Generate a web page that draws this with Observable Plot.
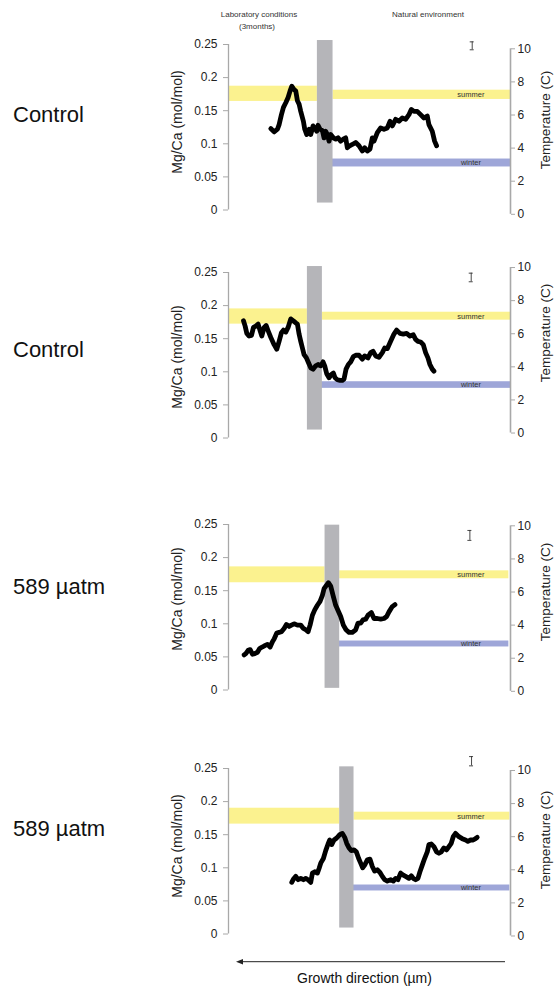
<!DOCTYPE html>
<html>
<head>
<meta charset="utf-8">
<script src="https://cdn.jsdelivr.net/npm/d3@7"></script>
<script src="https://cdn.jsdelivr.net/npm/@observablehq/plot@0.6"></script>
<style>
  html, body { margin: 0; padding: 0; background: #fff; }
  body { width: 555px; height: 986px; position: relative; overflow: hidden; font-family: "Liberation Sans", Arial, sans-serif; }
  .panel { position: absolute; left: 0; }
  #overlay { position: absolute; left: 0; top: 0; pointer-events: none; }
</style>
</head>
<body>
<div id="root"></div>
<script>
// ---------- data ----------
const panelLabels = ["Control", "Control", "589 µatm", "589 µatm"];
const headerLab = ["Laboratory conditions", "(3months)"];
const headerNat = "Natural environment";
const yLabel = "Mg/Ca (mol/mol)";
const tLabel = "Temperature (C)";
const xLabel = "Growth direction (µm)";

const mgTicks = [0, 0.05, 0.1, 0.15, 0.2, 0.25];
const tempTicks = [0, 2, 4, 6, 8, 10];
const xMax = 847; // distance units across the plot

// Panel 1 (Control)
const p1X = [127,137,147,152,159,165,172,179,185,190,197,202,207,212,217,225,229,235,242,247,254,259,265,269,275,282,287,292,297,302,307,315,322,329,337,345,352,357,364,372,382,392,402,409,417,425,432,437,447,457,467,477,485,492,502,512,522,532,542,549,557,567,577,587,597,602,612,619,625];
const p1Y = [0.123,0.118,0.122,0.129,0.144,0.155,0.162,0.170,0.180,0.187,0.182,0.180,0.165,0.160,0.149,0.134,0.122,0.114,0.122,0.114,0.127,0.124,0.119,0.128,0.122,0.120,0.109,0.119,0.114,0.104,0.114,0.109,0.107,0.109,0.104,0.107,0.109,0.094,0.097,0.099,0.102,0.097,0.089,0.094,0.089,0.092,0.109,0.104,0.117,0.124,0.122,0.124,0.134,0.127,0.137,0.134,0.139,0.137,0.144,0.152,0.149,0.149,0.144,0.139,0.142,0.129,0.119,0.104,0.097];

// Panel 2 (Control)
const p2X = [45,50,55,62,69,75,82,89,95,100,107,113,119,127,137,145,152,159,165,172,179,187,195,202,207,212,217,222,227,234,240,247,254,262,269,277,284,289,295,302,309,315,320,327,335,342,347,353,360,367,375,382,392,402,409,419,427,434,442,452,462,469,477,487,497,505,515,525,535,545,555,562,569,577,585,592,599,605,612,617];
const p2Y = [0.177,0.169,0.158,0.154,0.155,0.167,0.169,0.172,0.162,0.154,0.167,0.170,0.162,0.152,0.141,0.134,0.146,0.159,0.163,0.160,0.167,0.180,0.177,0.174,0.172,0.157,0.146,0.136,0.126,0.121,0.114,0.106,0.104,0.109,0.111,0.109,0.115,0.109,0.097,0.091,0.096,0.098,0.091,0.088,0.087,0.087,0.089,0.104,0.111,0.115,0.123,0.125,0.125,0.119,0.124,0.121,0.129,0.131,0.124,0.122,0.129,0.136,0.135,0.146,0.157,0.163,0.158,0.157,0.158,0.154,0.156,0.149,0.146,0.145,0.141,0.129,0.121,0.111,0.104,0.101];

// Panel 3 (589 µatm)
const p3X = [47,52,59,65,72,79,87,94,102,109,117,125,132,137,145,152,159,167,174,182,189,197,207,217,225,232,239,245,252,259,267,275,282,287,294,300,307,314,322,330,337,345,353,362,372,382,389,397,404,412,419,429,437,447,457,467,475,482,492,500];
const p3Y = [0.053,0.055,0.060,0.061,0.054,0.055,0.057,0.063,0.065,0.067,0.069,0.065,0.073,0.077,0.086,0.087,0.088,0.093,0.099,0.096,0.098,0.100,0.098,0.098,0.093,0.091,0.088,0.098,0.113,0.121,0.128,0.134,0.143,0.153,0.158,0.162,0.157,0.143,0.128,0.119,0.111,0.098,0.091,0.087,0.087,0.091,0.101,0.101,0.106,0.107,0.113,0.117,0.108,0.108,0.107,0.108,0.111,0.118,0.126,0.129];

// Panel 4 (589 µatm)
const p4X = [190,195,202,209,217,225,232,239,247,252,259,267,272,277,285,292,299,304,310,317,325,334,342,349,355,362,369,377,384,391,397,403,409,417,425,432,439,447,455,462,469,477,487,495,502,509,517,525,532,542,549,555,562,569,575,582,589,597,602,609,617,625,632,639,647,655,662,669,675,682,692,702,712,719,727,735,742,747];
const p4Y = [0.078,0.083,0.087,0.082,0.084,0.082,0.084,0.082,0.078,0.092,0.094,0.092,0.099,0.107,0.114,0.126,0.136,0.142,0.135,0.142,0.145,0.150,0.152,0.146,0.137,0.130,0.126,0.127,0.124,0.114,0.107,0.100,0.104,0.112,0.113,0.102,0.095,0.097,0.093,0.087,0.082,0.080,0.082,0.080,0.084,0.082,0.092,0.089,0.087,0.084,0.088,0.084,0.082,0.084,0.094,0.104,0.114,0.124,0.135,0.136,0.132,0.124,0.122,0.124,0.130,0.127,0.132,0.137,0.147,0.152,0.147,0.144,0.142,0.140,0.142,0.142,0.144,0.146];

// Period boundaries (distance units): end of lab band, end of grey transition bar, end of natural bands
const labEnd   = [267, 237, 290, 334];
const grayEnd  = [314, 282, 334, 377];
const natEnd   = [847, 847, 842, 845];
// Band extents (Mg/Ca units)
const summerLab = [[0.164,0.187],[0.172,0.195],[0.162,0.186],[0.166,0.190]];
const summerNat = [[0.167,0.181],[0.178,0.190],[0.168,0.180],[0.172,0.184]];
const winterNat = [[0.065,0.077],[0.075,0.085],[0.065,0.074],[0.065,0.074]];
const grayBar   = [[0.0105,0.256],[0.012,0.259],[0.0025,0.249],[0.009,0.2525]];
// Error bar (top right) per panel: x, low, high
const errX  = [732, 729, 725, 730];
const errLo = [0.242, 0.236, 0.226, 0.254];
const errHi = [0.254, 0.249, 0.241, 0.268];
const errCap = 6;
// Temperature axis alignment relative to Mg/Ca axis (Mg/Ca units per °C, offset)
const tScale = 0.025;
const tOffset = [-0.0065, 0.0075, -0.002, -0.003];

const seriesX = [p1X, p2X, p3X, p4X];
const seriesY = [p1Y, p2Y, p3Y, p4Y];

// ---------- layout ----------
const W = 555;
const panelTop = [-0.5, 227.7, 480.3, 724.3];
const mTop = 44, plotH = 165.5, H = 230;
const yLabelCenter = [122, 357, 599, 846];
const tLabelCenter = [120, 333, 592, 840];
const nameBaseline = [122, 357, 594, 836];

const FONT = '"Liberation Sans", Arial, sans-serif';
const C_SUMMER = "#fbf28f";
const C_WINTER = "#9ea6d8";
const C_GRAY = "#b5b5b9";
const C_AXIS = "#a8a8a8";

const root = document.getElementById("root");

for (let p = 0; p < 4; p++) {
  const line = seriesX[p].map((x, i) => ({x, y: seriesY[p][i]}));
  const off = tOffset[p];
  const rects = [
    {x1: 0, x2: labEnd[p], y1: summerLab[p][0], y2: summerLab[p][1], fill: C_SUMMER},
    {x1: grayEnd[p], x2: natEnd[p], y1: summerNat[p][0], y2: summerNat[p][1], fill: C_SUMMER},
    {x1: grayEnd[p] - 3, x2: natEnd[p], y1: winterNat[p][0], y2: winterNat[p][1], fill: C_WINTER},
    {x1: labEnd[p], x2: grayEnd[p], y1: grayBar[p][0], y2: grayBar[p][1], fill: C_GRAY}
  ];
  const labels = [
    {x: 728, y: (summerNat[p][0] + summerNat[p][1]) / 2, t: "summer"},
    {x: 728, y: (winterNat[p][0] + winterNat[p][1]) / 2, t: "winter"}
  ];
  const err = [{x: errX[p], lo: errLo[p], hi: errHi[p]}];
  const chart = Plot.plot({
    width: W,
    height: H,
    marginLeft: 228,
    marginRight: W - 510,
    marginTop: mTop,
    marginBottom: H - mTop - plotH,
    x: {domain: [0, xMax], axis: null},
    y: {domain: [0, 0.25], axis: null},
    style: {fontFamily: FONT, overflow: "visible", background: "transparent"},
    marks: [
      Plot.rect(rects, {x1: "x1", x2: "x2", y1: "y1", y2: "y2", fill: "fill"}),
      Plot.text(labels, {x: "x", y: "y", text: "t", fontSize: 7.5, fill: "#333"}),
      Plot.ruleX(err, {x: "x", y1: "lo", y2: "hi", stroke: "#333", strokeWidth: 0.9}),
      Plot.ruleY(err, {y: "lo", x1: d => d.x - errCap, x2: d => d.x + errCap, stroke: "#333", strokeWidth: 0.9}),
      Plot.ruleY(err, {y: "hi", x1: d => d.x - errCap, x2: d => d.x + errCap, stroke: "#333", strokeWidth: 0.9}),
      Plot.line(line, {x: "x", y: "y", stroke: "#000", strokeWidth: 4.8, strokeLinejoin: "round", strokeLinecap: "round"}),
      Plot.ruleX([0], {y1: 0, y2: 0.25, stroke: C_AXIS, strokeWidth: 1.3}),
      Plot.axisY(mgTicks, {anchor: "left", tickSize: 5, tickPadding: 6, stroke: C_AXIS, fill: "#222", fontSize: 12, tickFormat: d => String(d), label: null}),
      Plot.ruleX([xMax], {y1: off, y2: 10 * tScale + off, stroke: C_AXIS, strokeWidth: 1.6}),
      Plot.axisY(tempTicks.map(t => t * tScale + off), {anchor: "right", tickSize: 4, tickPadding: 3, stroke: C_AXIS, fill: "#222", fontSize: 12, tickFormat: d => String(Math.round((d - off) / tScale)), label: null})
    ]
  });
  chart.classList.add("panel");
  chart.style.top = panelTop[p] + "px";
  chart.style.position = "absolute";
  chart.style.left = "0px";
  root.appendChild(chart);
}

// ---------- text overlay ----------
const svgNS = "http://www.w3.org/2000/svg";
const ov = document.createElementNS(svgNS, "svg");
ov.setAttribute("id", "overlay");
ov.setAttribute("width", W);
ov.setAttribute("height", 986);
ov.style.fontFamily = FONT;
function addText(x, y, str, size, anchor, rotate, fill) {
  const t = document.createElementNS(svgNS, "text");
  t.setAttribute("x", x);
  t.setAttribute("y", y);
  t.setAttribute("font-size", size);
  t.setAttribute("text-anchor", anchor || "start");
  t.setAttribute("fill", fill || "#111");
  if (rotate) {
    t.setAttribute("transform", `rotate(${rotate},${x},${y})`);
    t.setAttribute("dominant-baseline", "middle");
  }
  t.textContent = str;
  ov.appendChild(t);
}
addText(259, 17, headerLab[0], 8, "middle", 0, "#333");
addText(257, 29, headerLab[1], 8, "middle", 0, "#333");
addText(428, 17, headerNat, 8, "middle", 0, "#333");
for (let p = 0; p < 4; p++) {
  addText(13, nameBaseline[p], panelLabels[p], 22, "start", 0, "#111");
  addText(178, yLabelCenter[p], yLabel, 14, "middle", -90, "#222");
  addText(546, tLabelCenter[p], tLabel, 13.5, "middle", -90, "#222");
}
// growth direction arrow
const ln = document.createElementNS(svgNS, "line");
ln.setAttribute("x1", 505); ln.setAttribute("x2", 240);
ln.setAttribute("y1", 961.7); ln.setAttribute("y2", 961.7);
ln.setAttribute("stroke", "#222"); ln.setAttribute("stroke-width", 1);
ov.appendChild(ln);
const head = document.createElementNS(svgNS, "path");
head.setAttribute("d", "M236,961.7 L243,959 L243,964.4 Z");
head.setAttribute("fill", "#222");
ov.appendChild(head);
addText(364.5, 983, xLabel, 14, "middle", 0, "#111");
document.body.appendChild(ov);
</script>
</body>
</html>
